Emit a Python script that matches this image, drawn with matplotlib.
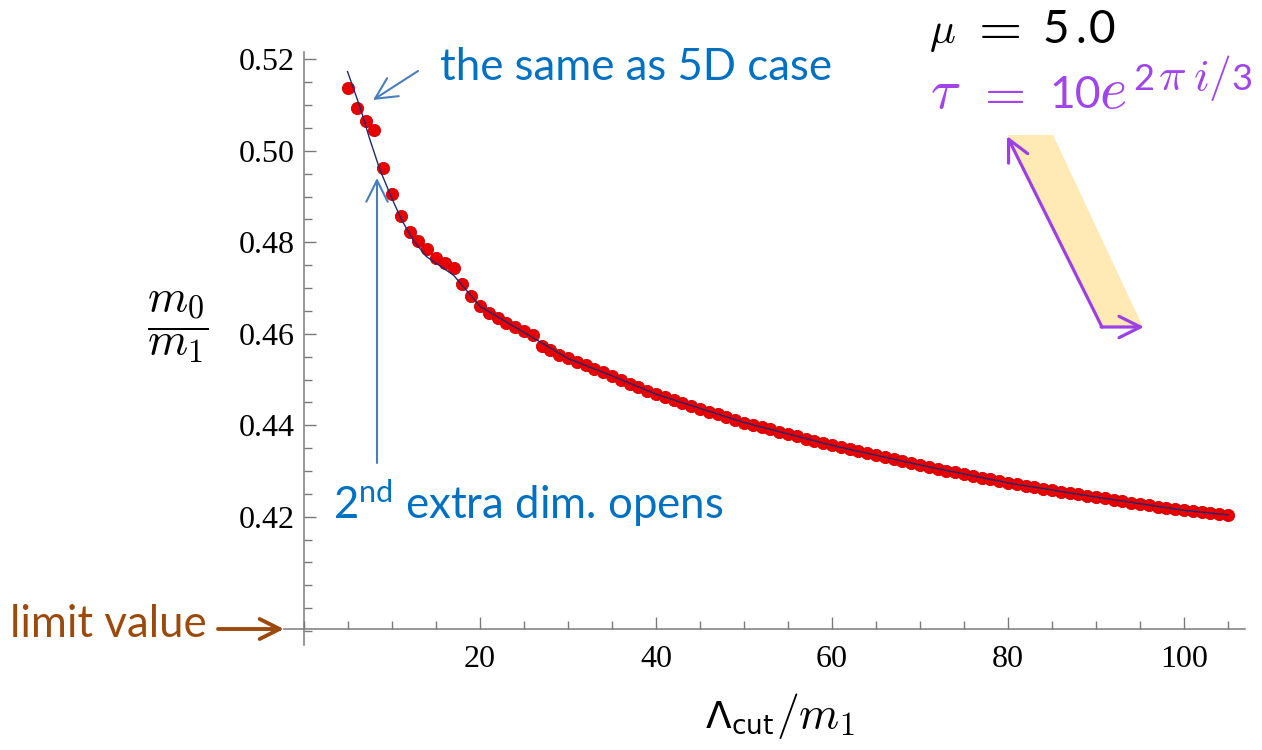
import matplotlib
matplotlib.use("Agg")
import matplotlib.pyplot as plt
from matplotlib.ticker import FixedLocator, MultipleLocator, FormatStrFormatter
from matplotlib.patches import FancyArrowPatch, Polygon

plt.rcParams['mathtext.fontset'] = 'cm'
plt.rcParams['mathtext.rm'] = 'Lato'
plt.rcParams['mathtext.it'] = 'Lato:italic'

# ---------------- data ----------------
cutoff = list(range(5, 106))
ratio = [
    0.5137, 0.5094, 0.5066, 0.5045, 0.4963, 0.4905, 0.4857, 0.4822, 0.4803, 0.4786,
    0.4765, 0.4754, 0.4743, 0.4708, 0.4683, 0.4661, 0.4646, 0.4634, 0.4623, 0.4614,
    0.4607, 0.4597, 0.4573, 0.4564, 0.4554, 0.4546, 0.4539, 0.4532, 0.4524, 0.4516,
    0.4508, 0.4500, 0.4491, 0.4483, 0.4475, 0.4468, 0.4461, 0.4455, 0.4449, 0.4443,
    0.4436, 0.4430, 0.4424, 0.4418, 0.4412, 0.4406, 0.4401, 0.4396, 0.4391, 0.4386,
    0.4381, 0.4376, 0.4371, 0.4366, 0.4361, 0.4356, 0.4352, 0.4347, 0.4343, 0.4339,
    0.4335, 0.4330, 0.4326, 0.4322, 0.4317, 0.4313, 0.4309, 0.4305, 0.4301, 0.4297,
    0.4293, 0.4289, 0.4285, 0.4282, 0.4278, 0.4274, 0.4271, 0.4268, 0.4264, 0.4261,
    0.4258, 0.4255, 0.4252, 0.4249, 0.4246, 0.4243, 0.4240, 0.4237, 0.4234, 0.4231,
    0.4228, 0.4225, 0.4222, 0.4219, 0.4216, 0.4214, 0.4212, 0.4210, 0.4208, 0.4206,
    0.4204,
]
fit_x = [4.95, 6.36, 7.5, 8.64, 10.08, 11.1, 12.4, 13.9, 17, 20, 25, 30, 35, 40, 50, 60, 70, 80, 90, 100, 105]
fit_y = [0.5173, 0.5096, 0.5024, 0.4958, 0.4892, 0.4849, 0.4805, 0.4769, 0.4728, 0.4660,
         0.4603, 0.4546, 0.4508, 0.4468, 0.4406, 0.4356, 0.4313, 0.4274, 0.4243, 0.4214, 0.4204]

x_major = [20, 40, 60, 80, 100]
y_major = [0.42, 0.44, 0.46, 0.48, 0.50, 0.52]
limit_value = 0.3954

W, H = 1262, 750
fig = plt.figure(figsize=(W / 100, H / 100), dpi=100)


def fx(px):
    return px / W


def fy(py):
    return 1 - py / H


def piece(s, px, py, size, **kw):
    return fig.text(fx(px), fy(py), s, fontsize=size, ha='left', va='baseline', **kw)


ax = fig.add_axes([fx(284), fy(645), (1245 - 284) / W, (645 - 52) / H])
ax.set_xlim(-2.27, 106.93)
ax.set_ylim(0.39196, 0.52160)
ax.patch.set_alpha(0)

ax.plot(cutoff, ratio, 'o', ms=8.8, color='#E80000', mec='#CC0000', mew=0.6, zorder=2, clip_on=False)
ax.plot(fit_x, fit_y, '-', color='#23296E', lw=1.0, zorder=3, clip_on=False)

axis_grey = '#7a7a7a'
for s in ['top', 'right']:
    ax.spines[s].set_visible(False)
ax.spines['left'].set_position(('data', 0))
ax.spines['bottom'].set_position(('data', limit_value))
for s in ['left', 'bottom']:
    ax.spines[s].set_color(axis_grey)
    ax.spines[s].set_linewidth(1.1)

ax.xaxis.set_major_locator(FixedLocator(x_major))
ax.xaxis.set_minor_locator(MultipleLocator(5))
ax.yaxis.set_major_locator(FixedLocator(y_major))
ax.yaxis.set_minor_locator(MultipleLocator(0.005))
ax.yaxis.set_major_formatter(FormatStrFormatter('%.2f'))
ax.tick_params(which='both', direction='in', color=axis_grey, width=1.0)
ax.tick_params(which='major', length=8.5)
ax.tick_params(which='minor', length=5.5)
ax.tick_params(axis='x', which='major', pad=11.0)
ax.tick_params(axis='y', which='major', pad=6.5)
for lab in ax.get_xticklabels() + ax.get_yticklabels():
    lab.set_fontfamily('Liberation Serif')
    lab.set_fontsize(23)

# x axis label: sans Lambda_cut followed by /m_1 in Computer Modern
lab1 = piece(r'$\Lambda_{\mathrm{cut}}$', 705, 728, 27)
lab1.set_math_fontfamily('dejavusans')
piece(r'$/m_1$', 776, 728, 33)

# y axis label
fig.text(fx(178), fy(327), r'$\dfrac{m_0}{m_1}$', fontsize=33, ha='center', va='center')

# parameter label  mu = 5.0
piece(r'$\mu$', 929, 43, 31, color='black')
piece(r'$=$', 969, 43, 40, color='black')
for ch, px in [('5', 1042), ('.', 1075), ('0', 1089)]:
    piece(ch, px, 43, 33, family='Lato', color='black')

# parameter label  tau = 10 e^{2 pi i/3}
purple_text = '#A045EA'
piece(r'$\tau$', 930, 108, 40, color=purple_text)
piece(r'$=$', 975, 108, 38, color=purple_text)
piece('10', 1049, 108, 32, family='Lato', color=purple_text)
piece(r'$e$', 1099, 108, 42, color=purple_text)
piece('2', 1133, 90, 26, family='Lato', color=purple_text)
piece(r'$\pi$', 1158, 90, 33, color=purple_text)
piece(r'$i$', 1193, 90, 33, color=purple_text)
piece(r'$/$', 1208, 90, 33, color=purple_text)
piece('3', 1231, 90, 26, family='Lato', color=purple_text)

# yellow band + purple arrows
band = Polygon([(fx(1008), fy(135)), (fx(1053), fy(135)), (fx(1143), fy(327)), (fx(1102), fy(327))],
               closed=True, transform=fig.transFigure, facecolor='#FFE9B5', edgecolor='none', zorder=1)
fig.add_artist(band)
purple = '#9B40E2'
fig.add_artist(FancyArrowPatch((fx(1102), fy(327)), (fx(1007), fy(136)), transform=fig.transFigure,
                               arrowstyle='->,head_length=0.7,head_width=0.35', mutation_scale=22,
                               color=purple, lw=2.3, shrinkA=0, shrinkB=0))
fig.add_artist(FancyArrowPatch((fx(1101), fy(327)), (fx(1144), fy(327)), transform=fig.transFigure,
                               arrowstyle='->,head_length=0.7,head_width=0.35', mutation_scale=22,
                               color=purple, lw=2.3, shrinkA=0, shrinkB=0))

# annotations
blue_text = '#0070C0'
blue_arrow = '#4A7EBB'
fig.text(fx(440), fy(80), 'the same as 5D case', fontsize=31.5, family='Lato', color=blue_text,
         ha='left', va='baseline')
fig.add_artist(FancyArrowPatch((fx(418), fy(71)), (fx(373), fy(100)), transform=fig.transFigure,
                               arrowstyle='->,head_length=0.7,head_width=0.35', mutation_scale=22,
                               color=blue_arrow, lw=1.5, shrinkA=0, shrinkB=0))

t2 = fig.text(fx(333), fy(519), r'2$^{\mathrm{nd}}$ extra dim. opens', fontsize=31.5, family='Lato',
              color=blue_text, ha='left', va='baseline')
t2.set_math_fontfamily('custom')
fig.add_artist(FancyArrowPatch((fx(377), fy(463)), (fx(377), fy(178)), transform=fig.transFigure,
                               arrowstyle='->,head_length=0.7,head_width=0.35', mutation_scale=22,
                               color=blue_arrow, lw=1.5, shrinkA=0, shrinkB=0))

brown = '#9C4A0C'
fig.text(fx(10), fy(637), 'limit value', fontsize=31.5, family='Lato', color=brown,
         ha='left', va='baseline')
fig.add_artist(FancyArrowPatch((fx(218), fy(629)), (fx(284), fy(629)), transform=fig.transFigure,
                               arrowstyle='->,head_length=0.6,head_width=0.3', mutation_scale=24,
                               color=brown, lw=2.8, shrinkA=0, shrinkB=0))

fig.savefig('out.png', dpi=100)
